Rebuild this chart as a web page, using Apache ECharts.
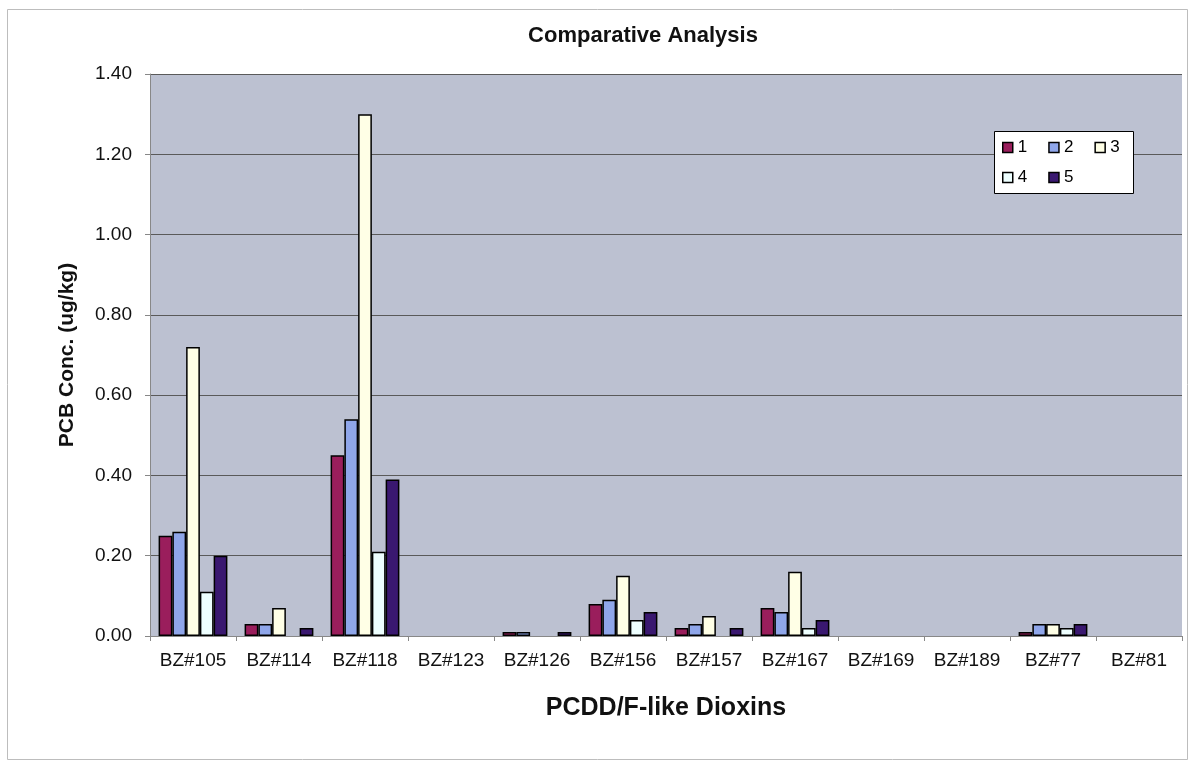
<!DOCTYPE html>
<html>
<head>
<meta charset="utf-8">
<script src="https://cdn.jsdelivr.net/npm/echarts@6/dist/echarts.min.js"></script>
<style>html,body{margin:0;padding:0;background:#fff;}#chart{width:1190px;height:760px;}</style>
</head>
<body>
<div id="chart"></div>
<script>
var categories = ['BZ#105','BZ#114','BZ#118','BZ#123','BZ#126','BZ#156','BZ#157','BZ#167','BZ#169','BZ#189','BZ#77','BZ#81'];
var s1 = [0.25, 0.03, 0.45, null, 0.01, 0.08, 0.02, 0.07, null, null, 0.01, null];
var s2 = [0.26, 0.03, 0.54, null, 0.01, 0.09, 0.03, 0.06, null, null, 0.03, null];
var s3 = [0.72, 0.07, 1.30, null, null, 0.15, 0.05, 0.16, null, null, 0.03, null];
var s4 = [0.11, null, 0.21, null, null, 0.04, null, 0.02, null, null, 0.02, null];
var s5 = [0.20, 0.02, 0.39, null, 0.01, 0.06, 0.02, 0.04, null, null, 0.03, null];
var seriesNames = ['1','2','3','4','5'];
var legendRow1 = ['1','2','3'];
var legendRow2 = ['4','5'];
var seriesColors = ['#9A1E5C','#8FA6EA','#FFFFE6','#EEFFFF','#3A1870'];
var seriesData = [s1, s2, s3, s4, s5];

var chart = echarts.init(document.getElementById('chart'));
var font = '"Liberation Sans", Arial, sans-serif';
function legendRow(data, top) {
  return {
    data: data, left: 1002, top: top, orient: 'horizontal',
    itemWidth: 10, itemHeight: 10, itemGap: 21, padding: 0,
    icon: 'rect',
    textStyle: { fontSize: 17, color: '#000', fontFamily: font },
    itemStyle: { borderColor: '#000', borderWidth: 1.5 }
  };
}
chart.setOption({
  animation: false,
  backgroundColor: '#ffffff',
  textStyle: { fontFamily: font },
  graphic: [{
    type: 'rect', left: 5, top: 7, z: -10,
    shape: { width: 1180, height: 750 },
    style: { fill: 'none', stroke: '#bdbdbd', lineWidth: 1 }
  }, {
    type: 'rect', left: 994, top: 131, z: 3,
    shape: { width: 139, height: 62 },
    style: { fill: '#fff', stroke: '#000', lineWidth: 1 }
  }],
  title: {
    text: 'Comparative Analysis', left: 638, top: 20, textAlign: 'center',
    textStyle: { fontSize: 22, fontWeight: 'bold', color: '#111', fontFamily: font }
  },
  legend: [legendRow(legendRow1, 139), legendRow(legendRow2, 169)],
  grid: { left: 150, right: 8, top: 74, bottom: 124, backgroundColor: '#BCC1D1', show: true, borderWidth: 0 },
  xAxis: {
    type: 'category', data: categories,
    name: 'PCDD/F-like Dioxins', nameLocation: 'middle', nameGap: 60,
    nameTextStyle: { fontSize: 25, fontWeight: 'bold', color: '#111', fontFamily: font },
    axisLine: { lineStyle: { color: '#888', width: 1 } },
    axisTick: { show: true, length: 5, lineStyle: { color: '#888' } },
    axisLabel: { fontSize: 19, color: '#111', margin: 15, interval: 0, fontFamily: font }
  },
  yAxis: {
    type: 'value', min: 0, max: 1.4, interval: 0.2,
    name: 'PCB Conc. (ug/kg)', nameLocation: 'middle', nameGap: 72,
    nameTextStyle: { fontSize: 21, fontWeight: 'bold', color: '#111', fontFamily: font },
    axisLine: { show: true, lineStyle: { color: '#888' } },
    axisTick: { show: true, length: 5, lineStyle: { color: '#888' } },
    axisLabel: { fontSize: 19, color: '#111', margin: 18, fontFamily: font, formatter: function (v) { return v.toFixed(2); } },
    splitLine: { show: true, lineStyle: { color: '#5a5a5a', width: 1 } }
  },
  series: seriesData.map(function (d, i) {
    return {
      name: seriesNames[i], type: 'bar', data: d,
      barGap: '0%', barCategoryGap: '20%',
      itemStyle: { color: seriesColors[i], borderColor: '#000', borderWidth: 1.5 }
    };
  })
});
</script>
</body>
</html>
